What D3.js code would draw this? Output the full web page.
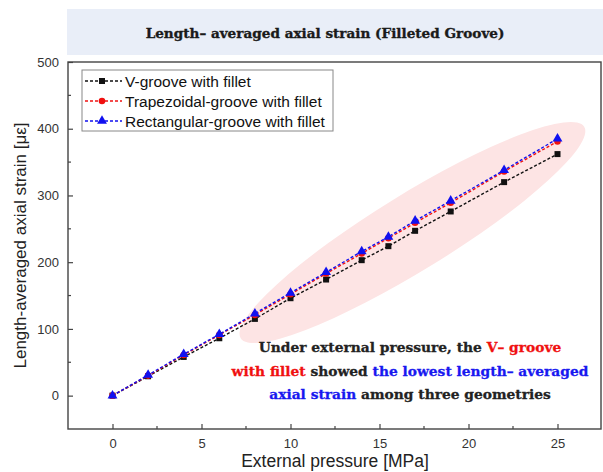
<!DOCTYPE html>
<html>
<head>
<meta charset="utf-8">
<script src="https://cdn.jsdelivr.net/npm/d3@7"></script>
<style>
  body { margin: 0; background: #fff; }
  svg { display: block; }
</style>
</head>
<body>
<div id="chart"></div>
<script>
// pressure steps [MPa]
const pressure = [0, 2, 4, 6, 8, 10, 12, 14, 15.5, 17, 19, 22, 25];
// length-averaged axial strain [με]
const vGroove = [0, 29, 58, 86, 115, 146, 174, 203, 224, 247, 276, 320, 362];
const trapGroove = [0, 30, 61, 91, 121, 152, 183, 213, 236, 259, 289, 336, 381];
const rectGroove = [0, 31, 62, 92, 123, 154, 185, 216, 238, 262, 292, 338, 385];

const xTicks = [0, 5, 10, 15, 20, 25];
const yTicks = [0, 100, 200, 300, 400, 500];

const seriesNames = ["V-groove with fillet", "Trapezoidal-groove with fillet", "Rectangular-groove with fillet"];

const width = 603, height = 472;
const margin = {top: 62, right: 1, bottom: 43, left: 68};

const sans = "Arial, 'Liberation Sans', sans-serif";
const serif = "'DejaVu Serif', serif";

const svg = d3.select("#chart").append("svg")
    .attr("width", width)
    .attr("height", height);

// title banner
svg.append("rect")
    .attr("x", 67).attr("y", 9)
    .attr("width", width - 67).attr("height", 46)
    .attr("fill", "#e9eef8");
svg.append("text")
    .attr("x", 325).attr("y", 38)
    .attr("text-anchor", "middle")
    .style("font-family", serif)
    .style("font-weight", "bold")
    .style("font-size", "13.6px")
    .attr("fill", "#1a1a1a")
    .attr("stroke", "#1a1a1a")
    .attr("stroke-width", 0.35)
    .text("Length\u2013 averaged axial strain (Filleted Groove)");

const x = d3.scaleLinear()
    .domain([-2.5, 27.5])
    .range([margin.left, width - margin.right]);

const y = d3.scaleLinear()
    .domain([-50, 500])
    .range([height - margin.bottom, margin.top]);

// highlight ellipse behind the upper half of the curves
const e0 = [x(7.2), y(86)], e1 = [x(26.5), y(403)];
const ecx = (e0[0] + e1[0]) / 2, ecy = (e0[1] + e1[1]) / 2;
const erx = Math.hypot(e1[0] - e0[0], e1[1] - e0[1]) / 2;
const eang = Math.atan2(e1[1] - e0[1], e1[0] - e0[0]) * 180 / Math.PI;
svg.append("ellipse")
    .attr("cx", ecx).attr("cy", ecy)
    .attr("rx", erx).attr("ry", 38)
    .attr("transform", `rotate(${eang},${ecx},${ecy})`)
    .attr("fill", "#fde4e4");

// axes (ticks point inward)
const xAxis = d3.axisBottom(x).tickValues(xTicks).tickSize(-5).tickPadding(10);
const yAxis = d3.axisLeft(y).tickValues(yTicks).tickSize(-5).tickPadding(9);

const gx = svg.append("g")
    .attr("transform", `translate(0,${height - margin.bottom})`)
    .call(xAxis);
const gy = svg.append("g")
    .attr("transform", `translate(${margin.left},0)`)
    .call(yAxis);

[gx, gy].forEach(g => {
    g.select(".domain").remove();
    g.selectAll("line").attr("stroke", "#444").attr("stroke-width", 1.2);
    g.selectAll("text")
        .style("font-family", sans)
        .style("font-size", "13px")
        .attr("fill", "#333");
});

// minor ticks
const xMinor = d3.range(2.5, 27.5, 5);
const yMinor = d3.range(50, 500, 100);
svg.append("g").selectAll("line").data(xMinor).join("line")
    .attr("x1", d => x(d)).attr("x2", d => x(d))
    .attr("y1", height - margin.bottom).attr("y2", height - margin.bottom - 3)
    .attr("stroke", "#444").attr("stroke-width", 1.2);
svg.append("g").selectAll("line").data(yMinor).join("line")
    .attr("y1", d => y(d)).attr("y2", d => y(d))
    .attr("x1", margin.left).attr("x2", margin.left + 3)
    .attr("stroke", "#444").attr("stroke-width", 1.2);

// frame
svg.append("rect")
    .attr("x", margin.left).attr("y", margin.top)
    .attr("width", width - margin.left - margin.right - 1)
    .attr("height", height - margin.top - margin.bottom)
    .attr("fill", "none")
    .attr("stroke", "#444")
    .attr("stroke-width", 1.4);

const series = [
    {name: seriesNames[0], values: vGroove, color: "#111", shape: d3.symbolSquare, size: 36},
    {name: seriesNames[1], values: trapGroove, color: "#f01010", shape: d3.symbolCircle, size: 34},
    {name: seriesNames[2], values: rectGroove, color: "#1010f0", shape: d3.symbolTriangle, size: 42}
];

const line = d3.line()
    .x(d => x(d[0]))
    .y(d => y(d[1]));

series.forEach(s => {
    const pts = pressure.map((p, i) => [p, s.values[i]]);
    svg.append("path")
        .datum(pts)
        .attr("d", line)
        .attr("fill", "none")
        .attr("stroke", s.color)
        .attr("stroke-width", 1.4)
        .attr("stroke-dasharray", "3,2");
    svg.append("g").selectAll("path").data(pts).join("path")
        .attr("transform", d => `translate(${x(d[0])},${y(d[1])})`)
        .attr("d", d3.symbol().type(s.shape).size(s.size))
        .attr("fill", s.color);
});

// legend
const lg = svg.append("g");
lg.append("rect")
    .attr("x", 82).attr("y", 70)
    .attr("width", 251).attr("height", 61)
    .attr("fill", "#fff")
    .attr("stroke", "#888")
    .attr("stroke-width", 1);
series.forEach((s, i) => {
    const ly = 81 + i * 20;
    lg.append("line")
        .attr("x1", 85).attr("x2", 122)
        .attr("y1", ly).attr("y2", ly)
        .attr("stroke", s.color)
        .attr("stroke-width", 1.4)
        .attr("stroke-dasharray", "3,2");
    lg.append("path")
        .attr("transform", `translate(102,${ly})`)
        .attr("d", d3.symbol().type(s.shape).size(s.size))
        .attr("fill", s.color);
    lg.append("text")
        .attr("x", 125).attr("y", ly + 5.5)
        .style("font-family", sans)
        .style("font-size", "15.5px")
        .attr("fill", "#111")
        .text(s.name);
});

// axis titles
svg.append("text")
    .attr("x", 335).attr("y", 467)
    .attr("text-anchor", "middle")
    .style("font-family", sans)
    .style("font-size", "17.5px")
    .attr("fill", "#222")
    .text("External pressure [MPa]");
svg.append("text")
    .attr("transform", `translate(26,${(margin.top + height - margin.bottom) / 2}) rotate(-90)`)
    .attr("text-anchor", "middle")
    .style("font-family", sans)
    .style("font-size", "17px")
    .attr("fill", "#222")
    .text("Length-averaged axial strain [\u03bc\u03b5]");

// annotation
const note = [
    [["Under external pressure, the ", "#222"], ["V\u2013 groove", "#f01010"]],
    [["with fillet", "#f01010"], [" showed ", "#222"], ["the lowest length\u2013 averaged", "#1818f0"]],
    [["axial strain", "#1818f0"], [" among three geometries", "#222"]]
];
const nt = svg.append("text")
    .attr("text-anchor", "middle")
    .style("font-family", serif)
    .style("font-weight", "bold")
    .style("font-size", "13.8px");
note.forEach((parts, i) => {
    parts.forEach((p, j) => {
        const ts = nt.append("tspan")
            .attr("fill", p[1])
            .attr("stroke", p[1])
            .attr("stroke-width", 0.3)
            .text(p[0]);
        if (j === 0) ts.attr("x", 410).attr("y", 352 + i * 23.5);
    });
});
</script>
</body>
</html>
